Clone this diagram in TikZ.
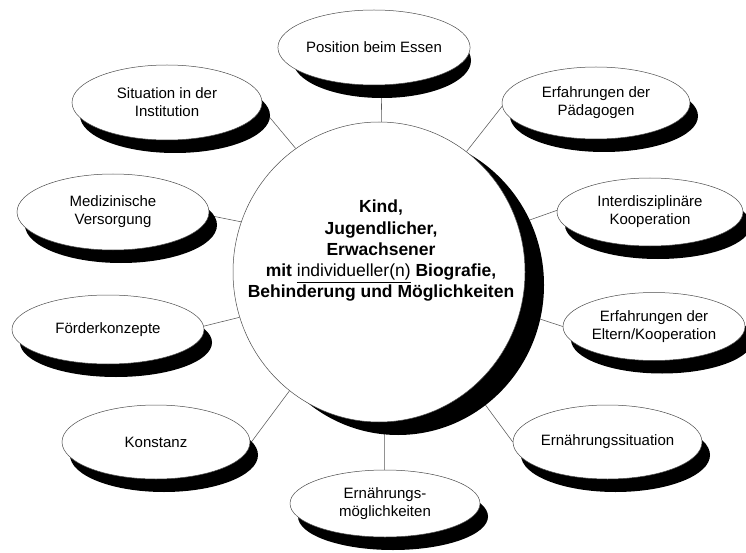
\documentclass[tikz,border=0pt]{standalone}
\usepackage{fontspec}
\setmainfont{Liberation Sans}
\usetikzlibrary{shapes.geometric,backgrounds}
\begin{document}
\begin{tikzpicture}[x=1pt,y=-1pt,
  bub/.style={ellipse, draw=black!70, line width=0.5pt, fill=white, inner sep=0pt, align=center, font=\fontsize{15}{18}\selectfont},
  shd/.style={ellipse, fill=black, inner sep=0pt},
  con/.style={draw=black!65, line width=0.55pt}]
\newcommand\bubble[6]{%
  \node[shd, minimum width=2*#4, minimum height=2*#5] at (#2+8,#3+13) {};
  \node[bub, minimum width=2*#4, minimum height=2*#5] (#1) at (#2,#3) {#6};}
\useasboundingbox (0,0) rectangle (746,553);
\clip (0,0) rectangle (746,553);
% central circle
\node[shd, minimum width=292, minimum height=300] at (398,285) {};
\node[ellipse, draw=black!70, line width=0.5pt, fill=white, inner sep=0pt, minimum width=292, minimum height=300] (c) at (379,272) {};
\node[align=center, inner sep=0pt, font=\bfseries\fontsize{17.5}{21.25}\selectfont] (ct) at (381,251)
  {Kind,\\Jugendlicher,\\Erwachsener\\mit {\mdseries\underline{individueller(n)}} Biografie,\\Behinderung und Möglichkeiten};
% outer bubbles
\bubble{pos}{374}{47.5}{89}{37.5}{Position beim Essen}
\bubble{pae}{596}{103}{94}{36}{Erfahrungen der\\Pädagogen}
\bubble{sit}{167}{102.5}{95}{37.5}{Situation in der\\Institution}
\bubble{med}{113}{212}{96}{38}{Medizinische\\Versorgung}
\bubble{int}{650}{212}{93}{34}{Interdisziplinäre\\Kooperation}
\bubble{foe}{108}{329.5}{96}{34.5}{Förderkonzepte}
\bubble{elt}{654}{326.5}{91}{34}{Erfahrungen der\\Eltern/Kooperation}
\bubble{kon}{156}{442}{94}{37}{Konstanz}
\bubble{ers}{607.5}{442}{94.5}{37}{Ernährungssituation}
\bubble{erm}{385}{503.5}{95}{33.5}{Ernährungs-\\möglichkeiten}
% connectors
\begin{scope}[on background layer]
\fill[white] (0,0) rectangle (746,553);
\draw[con] (pos.-79) -- (c.89);
\draw[con] (sit.-3) -- (c.124.6);
\draw[con] (pae.182) -- (c.54.3);
\draw[con] (med.-2) -- (c.160.8);
\draw[con] (int.179.4) -- (c.19);
\draw[con] (foe.2.7) -- (c.-162.3);
\draw[con] (elt.180) -- (c.-16.8);
\draw[con] (kon.-1) -- (c.-127.2);
\draw[con] (ers.180) -- (c.-51.2);
\draw[con] (erm.91) -- (c.-88.5);
\end{scope}
\end{tikzpicture}
\end{document}
